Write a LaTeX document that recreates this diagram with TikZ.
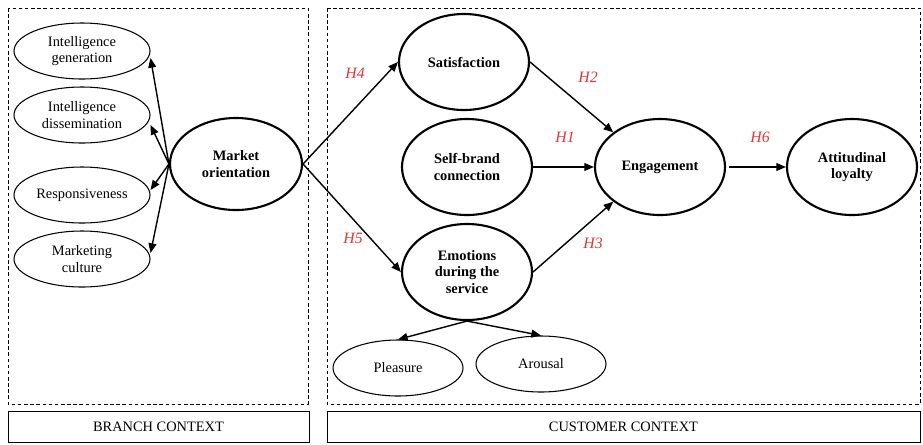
\documentclass[tikz,border=0pt]{standalone}
\usepackage{fontspec}
\setmainfont{Liberation Serif}
\usepackage{tikz}
\usetikzlibrary{shapes.geometric, arrows.meta}
\definecolor{hypred}{RGB}{232,52,52}
\newcommand{\figfont}{\fontsize{8.2}{9.4}\selectfont}
\tikzstyle{construct} = [ellipse, draw=black, line width=1.2pt, minimum width=2.6cm, minimum height=1.92cm, inner sep=0pt, align=center, font=\figfont\bfseries]
\tikzstyle{dim} = [ellipse, draw=black, line width=0.6pt, minimum width=2.72cm, minimum height=1.12cm, inner sep=0pt, align=center, font=\figfont]
\tikzstyle{hyp} = [text=hypred, font=\fontsize{9}{10}\selectfont\itshape]
\tikzstyle{frame} = [draw=black, dash pattern=on 2pt off 1.5pt, line width=0.5pt]
\tikzstyle{context} = [rectangle, draw=black, line width=0.5pt, minimum height=0.62cm, inner sep=0pt, font=\figfont]
\tikzstyle{arrow} = [line width=0.8pt, -{Triangle[length=5.5pt,width=4.5pt]}]

\begin{document}
\begin{tikzpicture}[node distance=2.1cm]
\useasboundingbox (0,0) rectangle (18.46,-8.88);
%两个情境框
\draw [frame] (0.16,-0.16) rectangle (6.16,-8.08);
\draw [frame] (6.54,-0.16) rectangle (18.40,-8.08);
\node (branch) [context, minimum width=6.02cm] at (3.17,-8.53) {BRANCH CONTEXT};
\node (customer) [context, minimum width=11.86cm] at (12.47,-8.53) {CUSTOMER CONTEXT};

%市场导向及其维度
\node (mo) [construct, minimum width=2.64cm, minimum height=1.84cm] at (4.72,-3.28) {Market\\orientation};
\node (gen) [dim] at (1.64,-1.02) {Intelligence\\generation};
\node (diss) [dim, below of=gen, node distance=1.28cm] {Intelligence\\dissemination};
\node (resp) [dim, below of=diss, node distance=1.6cm] {Responsiveness};
\node (cult) [dim, below of=resp, node distance=1.28cm] {Marketing\\culture};

%顾客层面的构念
\node (self) [construct] at (9.34,-3.34) {Self-brand\\connection};
\node (sat) [construct, above of=self, xshift=-0.06cm] {Satisfaction};
\node (emo) [construct, below of=self] {Emotions\\during the\\service};
\node (eng) [construct, right of=self, xshift=1.76cm] {Engagement};
\node (att) [construct, right of=eng, xshift=1.74cm] {Attitudinal\\loyalty};
\node (plea) [dim, minimum width=2.6cm, below of=emo, xshift=-1.38cm, yshift=0.18cm] {Pleasure};
\node (arou) [dim, minimum width=2.6cm, right of=plea, xshift=0.76cm, yshift=0.08cm] {Arousal};

%假设标签
\node (h4) [hyp] at (7.10,-1.46) {H4};
\node (h5) [hyp] at (7.06,-4.76) {H5};
\node (h2) [hyp] at (11.76,-1.54) {H2};
\node (h1) [hyp] at (11.30,-2.74) {H1};
\node (h3) [hyp] at (11.86,-4.86) {H3};
\node (h6) [hyp] at (15.20,-2.74) {H6};

%连接具体形状
\draw [arrow] (mo.west) -- ([yshift=-0.14cm]gen.east);
\draw [arrow] (mo.west) -- ([yshift=-0.2cm]diss.east);
\draw [arrow] (mo.west) -- ([yshift=0.1cm]resp.east);
\draw [arrow] (mo.west) -- ([yshift=0.12cm]cult.east);
\draw [arrow] (mo.east) -- (sat.west);
\draw [arrow] (mo.east) -- (emo.west);
\draw [arrow] (sat.east) -- (eng.north west);
\draw [arrow] (self.east) -- (eng.west);
\draw [arrow] (emo.east) -- (eng.south west);
\draw [arrow] ([xshift=0.06cm]eng.east) -- (att.west);
\draw [arrow] (emo.south) -- (plea.north);
\draw [arrow] (emo.south) -- (arou.north);
\end{tikzpicture}
\end{document}
